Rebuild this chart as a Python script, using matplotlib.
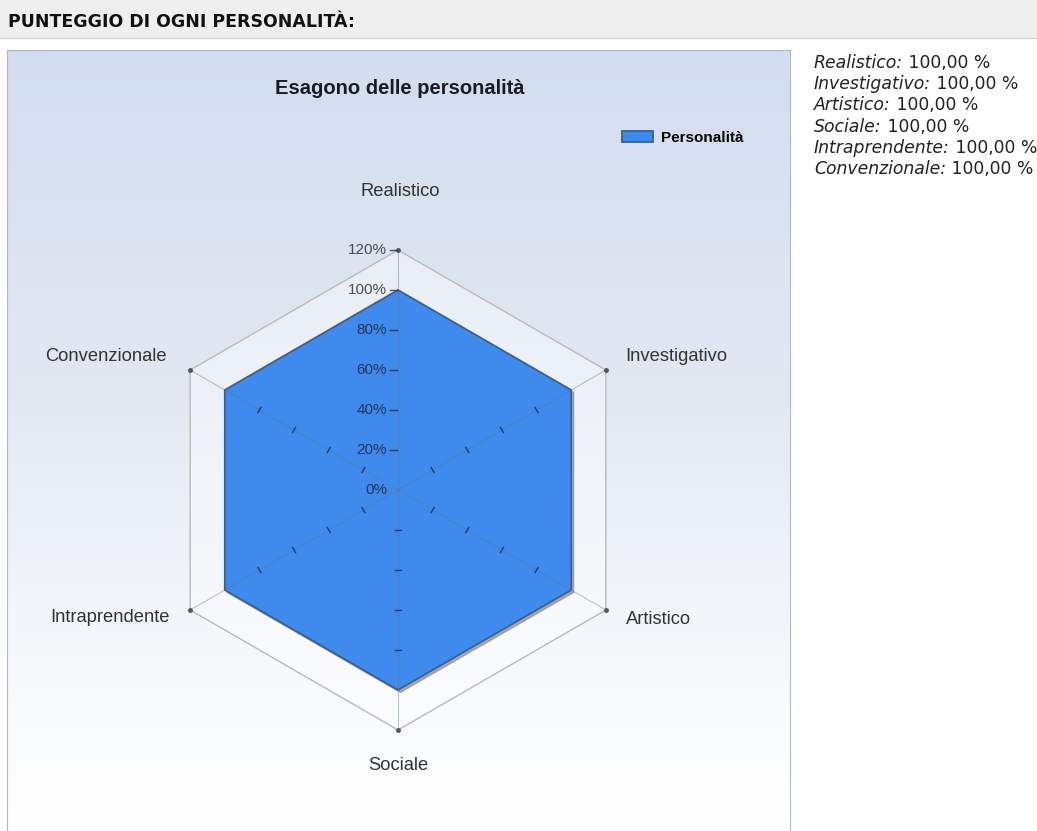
import matplotlib.pyplot as plt
import numpy as np
from matplotlib.colors import LinearSegmentedColormap
from matplotlib.patches import Rectangle
from matplotlib.lines import Line2D

# Data
categories = ["Realistico", "Investigativo", "Artistico", "Sociale",
              "Intraprendente", "Convenzionale"]
scores = [100, 100, 100, 100, 100, 100]
r_ticks = [0, 20, 40, 60, 80, 100, 120]
r_max = 120
series_name = "Personalità"
chart_title = "Esagono delle personalità"
header = "PUNTEGGIO DI OGNI PERSONALITÀ:"

W, H = 1037, 831
fill_color = "#3f8bed"
edge_color = "#3b5f8f"

fig = plt.figure(figsize=(W / 100, H / 100), dpi=100, facecolor="white")

# Header bar
fig.add_artist(Rectangle((0, 1 - 38 / H), 1, 38 / H, transform=fig.transFigure,
                         facecolor="#efefef", edgecolor="none", zorder=0))
fig.add_artist(Line2D([0, 1], [1 - 38 / H, 1 - 38 / H], transform=fig.transFigure,
                      color="#d2d2d2", lw=1))
fig.text(8 / W, 1 - 22 / H, header, ha="left", va="center", fontsize=12.5,
         weight="bold", color="#111111", family="DejaVu Sans")

# Chart panel with vertical gradient
bg = fig.add_axes([7 / W, 0, 783 / W, 781 / H])
cmap = LinearSegmentedColormap.from_list(
    "panel", [(0, "#ffffff"), (0.22, "#f6f8fb"), (0.55, "#e3e9f3"), (1, "#d2ddef")])
grad = np.linspace(0, 1, 256).reshape(-1, 1)
bg.imshow(grad, aspect="auto", cmap=cmap, origin="lower", extent=[0, 1, 0, 1])
bg.set_xticks([])
bg.set_yticks([])
for side in ["left", "top", "right"]:
    bg.spines[side].set_color("#aeb8c6")
bg.spines["bottom"].set_visible(False)

# Radar axes: centre at pixel (398, 490), 2 px per unit
ax = fig.add_axes([0, 0, 1, 1])
ax.set_xlim(-398 / 2, (W - 398) / 2)
ax.set_ylim(-(H - 490) / 2, 490 / 2)
ax.axis("off")

n = len(categories)
theta = np.pi / 2 - np.arange(n) * 2 * np.pi / n


def to_xy(r, th):
    r = np.asarray(r, dtype=float)
    return r * np.cos(th), r * np.sin(th)


# Outer hexagon (120%)
xo, yo = to_xy(np.full(n + 1, r_max), np.append(theta, theta[0]))
ax.fill(xo, yo, color="white", alpha=0.4, zorder=1)
ax.plot(xo, yo, color="#b8b8b8", lw=1, zorder=2)
ax.plot(xo[:-1], yo[:-1], "o", ms=2.5, color="#555555", zorder=6)

# Series polygon with shadow
vals = np.append(scores, scores[0])
xv, yv = to_xy(vals, np.append(theta, theta[0]))
ax.fill(xv + 1.2, yv - 1.2, color="#8a8a8a", alpha=0.7, zorder=3)
poly = ax.fill(xv, yv, facecolor=fill_color, edgecolor=edge_color, lw=1.3, zorder=4)[0]

# Spokes and tick marks
for i, th in enumerate(theta):
    xe, ye = to_xy(r_max, th)
    ax.plot([0, xe], [0, ye], color="#5a6f90", alpha=0.4, lw=0.8, zorder=5)
    px, py = -np.sin(th), np.cos(th)
    if i == 0:
        for r in r_ticks[1:]:
            ax.plot([-4, -0.5], [r, r], color="#1d2f5a", alpha=0.8, lw=1, zorder=6)
    else:
        for r in r_ticks[1:5]:
            cx, cy = to_xy(r, th)
            ax.plot([cx - 1.5 * px, cx + 1.5 * px], [cy - 1.5 * py, cy + 1.5 * py],
                    color="#1d3a78", lw=1, zorder=6)

# Radial tick labels
for r in r_ticks:
    ax.text(-5.5, r, f"{r}%", ha="right", va="center", fontsize=11,
            color="#1a1a1a", alpha=0.75, family="Liberation Sans", zorder=7)

# Category labels
offsets = [(2, 58, "center"), (19, 13, "left"), (20, -10, "left"),
           (0, -36, "center"), (-20, -7, "right"), (-23, 13, "right")]
for cat, th, (dx, dy, ha) in zip(categories, theta, offsets):
    ax.annotate(cat, xy=to_xy(r_max, th), xytext=(dx, dy), textcoords="offset pixels",
                ha=ha, va="center", fontsize=13.2, color="#333333",
                family="Liberation Sans", zorder=7)

# Title and legend
fig.text(400 / W, 1 - 88 / H, chart_title, ha="center", va="center", fontsize=14.5,
         weight="bold", color="#1a1a24", family="Liberation Sans")
fig.legend([poly], [series_name], loc="center left",
           bbox_to_anchor=(622 / W, 1 - 138 / H), frameon=False, borderpad=0,
           borderaxespad=0, handlelength=31 / 15.3, handleheight=12 / 15.3,
           handletextpad=0.5,
           prop={"weight": "bold", "size": 11, "family": "Liberation Sans"})

# Score summary on the right
for i, (cat, s) in enumerate(zip(categories, scores)):
    y = 1 - (63 + 21.2 * i) / H
    lab = fig.text(814 / W, y, f"{cat}:", ha="left", va="center", fontsize=12.4,
                   style="italic", color="#222222", family="DejaVu Sans")
    val = f" {s:.2f}".replace(".", ",") + " %"
    ax.annotate(val, xy=(1, 0.5), xycoords=lab, ha="left", va="center",
                fontsize=12.4, color="#222222", family="DejaVu Sans",
                annotation_clip=False)

fig.savefig("out.png", dpi=100)
